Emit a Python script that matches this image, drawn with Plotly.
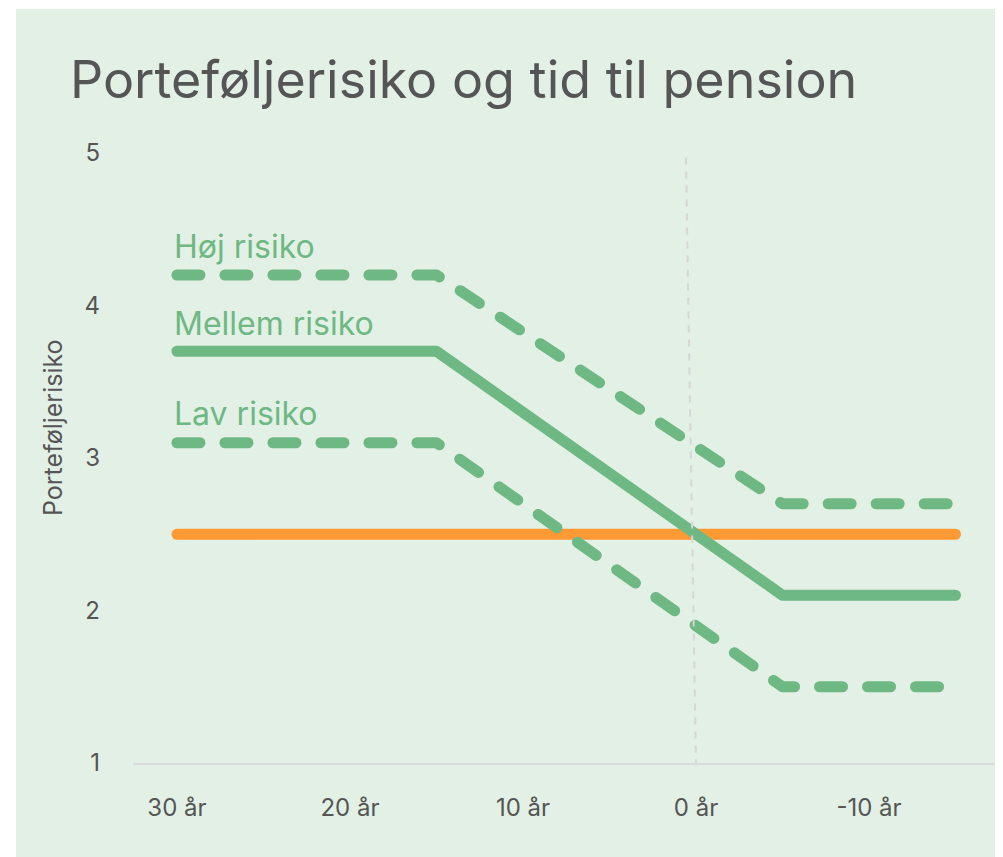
import plotly.graph_objects as go

# ---- data ----
years = [30, 15, -5, -15]            # years to pension (x)
hoj_risiko = [4.2, 4.2, 2.7, 2.7]
mellem_risiko = [3.7, 3.7, 2.1, 2.1]
lav_risiko = [3.1, 3.1, 1.5, 1.5]
ref_years = [30, -15]
ref_level = [2.5, 2.5]
tick_vals = [30, 20, 10, 0, -10]
tick_text = ["30 år", "20 år", "10 år", "0 år", "-10 år"]
y_ticks = [1, 2, 3, 4, 5]

GREEN = "#6EB883"
ORANGE = "#FF9933"
BG = "#E3F0E5"
TXT = "#555555"
FONT = "Inter"

OFF = 8  # browser body margin
W, H = 1003 - OFF, 857 - OFF
L, R, T, B = 133 - OFF, 6, 153 - OFF, 94
pw, ph = W - L - R, H - T - B

fig = go.Figure()
fig.add_trace(go.Scatter(x=ref_years, y=ref_level, mode="lines",
                         line=dict(color=ORANGE, width=11), hoverinfo="skip"))
fig.add_trace(go.Scatter(x=years, y=mellem_risiko, mode="lines",
                         line=dict(color=GREEN, width=11), hoverinfo="skip"))
fig.add_trace(go.Scatter(x=years, y=hoj_risiko, mode="lines",
                         line=dict(color=GREEN, width=11, dash="23px,25px"), hoverinfo="skip"))
fig.add_trace(go.Scatter(x=years, y=lav_risiko, mode="lines",
                         line=dict(color=GREEN, width=11, dash="23px,25px"), hoverinfo="skip"))

# background panel (white strip at left/top like the reference)
fig.add_shape(type="rect", xref="paper", yref="paper", layer="below",
              x0=(16 - OFF - L) / pw, x1=(W - L + 5) / pw,
              y0=-(B + 5) / ph, y1=1 + (T - 1) / ph,
              fillcolor=BG, line=dict(width=0))
# pension marker line
fig.add_shape(type="line", xref="x", yref="y", x0=0.58, y0=4.97, x1=0, y1=1,
              line=dict(color="#D6D6D6", width=2, dash="7px,7px"))

labels = [("Høj risiko", 4.39), ("Mellem risiko", 3.885), ("Lav risiko", 3.29)]
for txt, yy in labels:
    fig.add_annotation(x=30.3, y=yy, xref="x", yref="y", text=txt, showarrow=False,
                       xanchor="left", yanchor="middle",
                       font=dict(family=FONT, size=32, color=GREEN))

fig.add_annotation(x=(53 - OFF - L) / pw, y=(763 - 428) / ph, xref="paper", yref="paper",
                   text="Porteføljerisiko", textangle=-90, showarrow=False,
                   xanchor="center", yanchor="middle",
                   font=dict(family=FONT, size=25, color=TXT))

fig.update_layout(
    width=W, height=H,
    margin=dict(l=L, r=R, t=T, b=B),
    paper_bgcolor="white", plot_bgcolor="rgba(0,0,0,0)",
    showlegend=False,
    title=dict(text="Porteføljerisiko og tid til pension", x=(70 - OFF) / W, xanchor="left",
               xref="container", y=1 - (80 - OFF) / H, yanchor="middle",
               font=dict(family=FONT, size=52, color=TXT)),
    xaxis=dict(range=[32.54, -17.4], tickvals=tick_vals, ticktext=tick_text,
               showgrid=False, zeroline=False, showline=True, linecolor="#DADADA",
               linewidth=2, ticks="", ticklabelstandoff=22,
               tickfont=dict(family=FONT, size=24, color=TXT)),
    yaxis=dict(range=[1, 5], tickvals=y_ticks, showgrid=False, zeroline=False,
               showline=False, ticks="", ticklabelstandoff=32,
               tickfont=dict(family=FONT, size=24, color=TXT)),
)

post = """
var fixCaps=function(){document.querySelectorAll('.scatterlayer path.js-line').forEach(function(p){p.style.strokeLinecap='round';p.style.strokeLinejoin='round';});};
fixCaps(); setTimeout(fixCaps,0); setTimeout(fixCaps,200); setTimeout(fixCaps,1000);
var gdEl=document.getElementById('{plot_id}'); if(gdEl&&gdEl.on){gdEl.on('plotly_afterplot',fixCaps);}
"""
fig.write_html("out.html", post_script=post)
